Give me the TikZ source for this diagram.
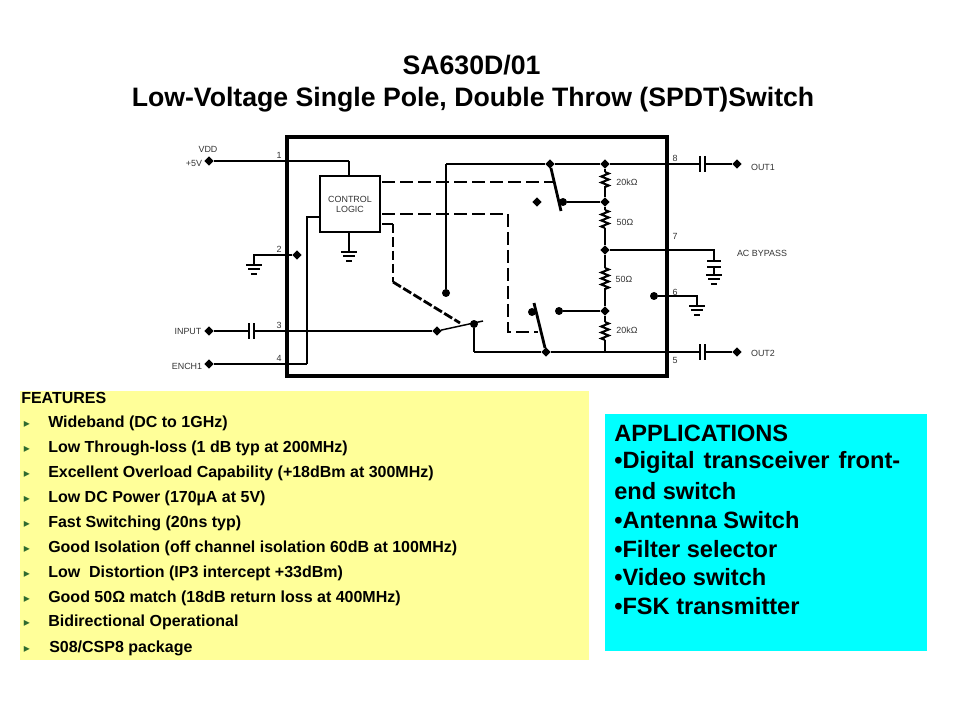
\documentclass[tikz,border=0pt]{standalone}
\usepackage{fontspec}
\setmainfont{Liberation Sans}
\usetikzlibrary{shapes.geometric,decorations.pathmorphing}
\definecolor{featyellow}{HTML}{FFFF99}
\definecolor{appcyan}{HTML}{00FFFF}
\definecolor{bulgreen}{HTML}{2F6B2F}
\definecolor{pingray}{HTML}{333333}
\tikzset{
  wire/.style={line width=1.1pt},
  bus/.style={line width=2.1pt},
  plate/.style={line width=2pt},
  term/.style={diamond,fill=black,inner sep=0pt,minimum size=7pt},
  pad/.style={circle,fill=black,inner sep=0pt,minimum size=6pt},
  pin/.style={font=\fontsize{6.7}{7.5}\selectfont,text=pingray,inner sep=0pt},
  heading/.style={font=\bfseries\fontsize{20}{22}\selectfont,inner sep=0pt},
  feat/.style={anchor=west,inner sep=0pt,font=\bfseries\fontsize{12}{14}\selectfont},
  appl/.style={anchor=west,inner sep=0pt,font=\bfseries\fontsize{17.7}{20}\selectfont},
  bul/.style={inner sep=0pt,text=bulgreen,font=\fontspec{DejaVu Sans}\fontsize{9}{9}\selectfont},
  res/.style={line width=1.5pt,decorate,decoration={zigzag,segment length=4.5pt,amplitude=2.8pt}},
  gnd/.pic={
    \draw[line width=1pt] (-8,0) -- (8,0);
    \draw[line width=1.3pt] (-6,4) -- (6,4);
    \draw[line width=1.6pt] (-3,9) -- (3,9);
  }
}
\begin{document}
\begin{tikzpicture}[x=0.75pt,y=-0.75pt]
\useasboundingbox (0,0) rectangle (960,720);

\node[heading] (TITLE) at (471.5,65) {SA630D/01};
\node[heading] (SUB) at (473,99.5) {Low-Voltage Single Pole, Double Throw (SPDT)Switch};

% chip outline
\draw[line width=2.5pt] (287,137) rectangle (667,376);

\node[draw,line width=2.1pt,minimum width=45pt,minimum height=42pt,inner sep=0pt,align=center,font=\fontsize{6.7}{7.5}\selectfont,text=pingray] (LOGIC) at (350,204) {CONTROL\\LOGIC};

% terminals
\node[term] (VDD) at (209,161) {};
\node[term] (INP) at (209,331) {};
\node[term] (ENCH) at (209,364) {};
\node[term] (OUTA) at (737,164) {};
\node[term] (OUTB) at (737,352) {};
\node[term] (GNDB) at (297,255) {};
\node[term] (SWIN) at (437,331) {};
\node[term] (TOPA) at (550,164) {};
\node[term] (TOPB) at (605,164) {};
\node[term] (FREE) at (537,202) {};
\node[term] (MIDA) at (605,202) {};
\node[term] (MIDB) at (605,250) {};
\node[term] (MIDC) at (605,311) {};
\node[term] (BOTA) at (546,352) {};
\node[pad] (SWOUT) at (474,324) {};
\node[pad] (LOWP) at (446,293) {};
\node[pad] (SWA) at (563,202) {};
\node[pad] (SWB) at (532,312) {};
\node[pad] (SWC) at (559,311) {};
\node[pad] (SHUNT) at (654,296) {};

% corners and free ends
\coordinate (A1) at (349,161);
\coordinate (A2) at (254,255);
\coordinate (A3) at (254,265);
\coordinate (A4) at (349,252);
\coordinate (B1) at (319,217);
\coordinate (B2) at (307,217);
\coordinate (B3) at (307,364);
\coordinate (C1) at (249,331);
\coordinate (C2) at (254,331);
\coordinate (D1) at (483,321);
\coordinate (D2) at (474,352);
\coordinate (E1) at (446,164);
\coordinate (E2) at (700,164);
\coordinate (E3) at (705,164);
\coordinate (E4) at (700,352);
\coordinate (E5) at (705,352);
\coordinate (F1) at (561,211);
\coordinate (F2) at (534,303);
\coordinate (G1) at (714,250);
\coordinate (G2) at (714,261);
\coordinate (G3) at (714,267);
\coordinate (G4) at (714,275);
\coordinate (H1) at (697,296);
\coordinate (H2) at (697,306);
\coordinate (J1) at (382,182);
\coordinate (J2) at (553,182);
\coordinate (K1) at (382,214);
\coordinate (K2) at (508,214);
\coordinate (K3) at (508,332);
\coordinate (K4) at (538,332);
\coordinate (L1) at (382,224);
\coordinate (L2) at (393,224);
\coordinate (L3) at (393,282);
\coordinate (L4) at (460,323);
\coordinate (R1A) at (605,172);
\coordinate (R1B) at (605,188);
\coordinate (R2A) at (605,210);
\coordinate (R2B) at (605,228);
\coordinate (R3A) at (605,268);
\coordinate (R3B) at (605,290);
\coordinate (R4A) at (605,322);
\coordinate (R4B) at (605,340);
\coordinate (R4C) at (605,352);

% wires on the left
\draw[wire] (VDD) -- (A1);
\draw[bus] (A1) -- (LOGIC.north-|A1);
\draw[bus] (LOGIC.south-|A4) -- (A4);
\draw[wire] (GNDB) -- (A2) -- (A3);
\draw[wire] (B1) -- (B2) -- (B3);
\draw[bus] (B3) -- (ENCH);
\draw[wire] (INP) -- (C1);
\draw[wire] (C2) -- (SWIN);
\draw[plate] (249,323) -- (249,339);
\draw[plate] (254,323) -- (254,339);
\pic at (A4) {gnd};
\pic at (A3) {gnd};

% switches
\draw[wire] (SWIN) -- (D1);
\draw[bus] (SWOUT) -- (D2);
\draw[wire] (D2) -- (BOTA);
\draw[wire] (BOTA) -- (E4);
\draw[bus] (TOPA) -- (F1);
\draw[bus] (BOTA) -- (F2);
\draw[bus] (SWA) -- (MIDA);
\draw[bus] (SWC) -- (MIDC);

% upper rail
\draw[wire] (E1) -- (LOWP);
\draw[bus] (E1) -- (TOPA);
\draw[bus] (TOPA) -- (TOPB);
\draw[bus] (TOPB) -- (E2);
\draw[wire] (E3) -- (OUTA);
\draw[plate] (700,156) -- (700,172);
\draw[plate] (705,156) -- (705,172);
\draw[wire] (E5) -- (OUTB);
\draw[plate] (700,344) -- (700,360);
\draw[plate] (705,344) -- (705,360);

% resistors
\draw[wire] (TOPB) -- (R1A);
\draw[res] (R1A) -- (R1B);
\draw[wire] (R1B) -- (MIDA);
\draw[wire] (MIDA) -- (R2A);
\draw[res] (R2A) -- (R2B);
\draw[wire] (R2B) -- (MIDB);
\draw[wire] (MIDB) -- (R3A);
\draw[res] (R3A) -- (R3B);
\draw[wire] (R3B) -- (MIDC);
\draw[wire] (MIDC) -- (R4A);
\draw[res] (R4A) -- (R4B);
\draw[wire] (R4B) -- (R4C);

% bypass
\draw[wire] (MIDB) -- (G1) -- (G2);
\draw[plate] (707,261) -- (721,261);
\draw[plate] (707,267) -- (721,267);
\draw[wire] (G3) -- (G4);
\pic at (G4) {gnd};
\draw[wire] (SHUNT) -- (H1) -- (H2);
\pic at (H2) {gnd};

% control lines
\draw[wire,dash pattern=on 10pt off 3.5pt] (J1) -- (J2);
\draw[bus,dash pattern=on 10pt off 3.5pt] (K1) -- (K2);
\draw[wire,dash pattern=on 10pt off 3.5pt] (K2) -- (K3) -- (K4);
\draw[bus] (L1) -- (L2);
\draw[bus,dash pattern=on 7pt off 3pt] (L2) -- (L3);
\draw[bus,dash pattern=on 7pt off 2pt] (L3) -- (L4);

% chip labels
\node[pin] (VDDL) at (208,149) {VDD};
\node[pin] (PLUS) at (194,163) {+5V};
\node[pin] (INPL) at (188,331) {INPUT};
\node[pin] (ENCHL) at (187,366) {ENCH1};
\node[pin] (P1) at (279,155) {1};
\node[pin] (P2) at (279,249) {2};
\node[pin] (P3) at (279,325) {3};
\node[pin] (P4) at (279,358) {4};
\node[pin] (P5) at (675,360) {5};
\node[pin] (P6) at (675,292) {6};
\node[pin] (P7) at (675,236) {7};
\node[pin] (P8) at (675,158) {8};
\node[pin] (R1) at (627,182) {20kΩ};
\node[pin] (R2) at (625,222) {50Ω};
\node[pin] (R3) at (624,279) {50Ω};
\node[pin] (R4) at (627,330) {20kΩ};
\node[pin] (OUTAL) at (763,167) {OUT1};
\node[pin] (OUTBL) at (763,353) {OUT2};
\node[pin] (BYP) at (762,253) {AC BYPASS};

% features
\node[fill=featyellow,minimum width=426.75pt,minimum height=201.75pt,inner sep=0pt] (FBOX) at (304.5,525.5) {};
\node[feat] (F0) at (21,398) {FEATURES};
\node[bul] (B01) at (27,424) {▸};
\node[feat] (F01) at (48,423) {Wideband (DC to 1GHz)};
\node[bul] (B02) at (27,449) {▸};
\node[feat] (F02) at (48,448) {Low Through-loss (1 dB typ at 200MHz)};
\node[bul] (B03) at (27,474) {▸};
\node[feat] (F03) at (48,473) {Excellent Overload Capability (+18dBm at 300MHz)};
\node[bul] (B04) at (27,499) {▸};
\node[feat] (F04) at (48,498) {Low DC Power (170µA at 5V)};
\node[bul] (B05) at (27,524) {▸};
\node[feat] (F05) at (48,523) {Fast Switching (20ns typ)};
\node[bul] (B06) at (27,549) {▸};
\node[feat] (F06) at (48,548) {Good Isolation (off channel isolation 60dB at 100MHz)};
\node[bul] (B07) at (27,574) {▸};
\node[feat] (F07) at (48,573) {Low\ \ Distortion (IP3 intercept +33dBm)};
\node[bul] (B08) at (27,599) {▸};
\node[feat] (F08) at (48,598) {Good 50Ω match (18dB return loss at 400MHz)};
\node[bul] (B09) at (27,623) {▸};
\node[feat] (F09) at (48,622) {Bidirectional Operational};
\node[bul] (B10) at (27,649) {▸};
\node[feat] (F10) at (49,648) {S08/CSP8 package};

% applications
\node[fill=appcyan,minimum width=241.5pt,minimum height=177.75pt,inner sep=0pt] (ABOX) at (766,532.5) {};
\node[appl] (A0) at (614,433) {APPLICATIONS};
\node[appl] (A01) at (614,462) {\makebox[214.5pt][s]{•Digital transceiver front-}};
\node[appl] (A02) at (614,491) {end switch};
\node[appl] (A03) at (614,520) {•Antenna Switch};
\node[appl] (A04) at (614,549) {•Filter selector};
\node[appl] (A05) at (614,577) {•Video switch};
\node[appl] (A06) at (614,606) {•FSK transmitter};
\end{tikzpicture}
\end{document}
